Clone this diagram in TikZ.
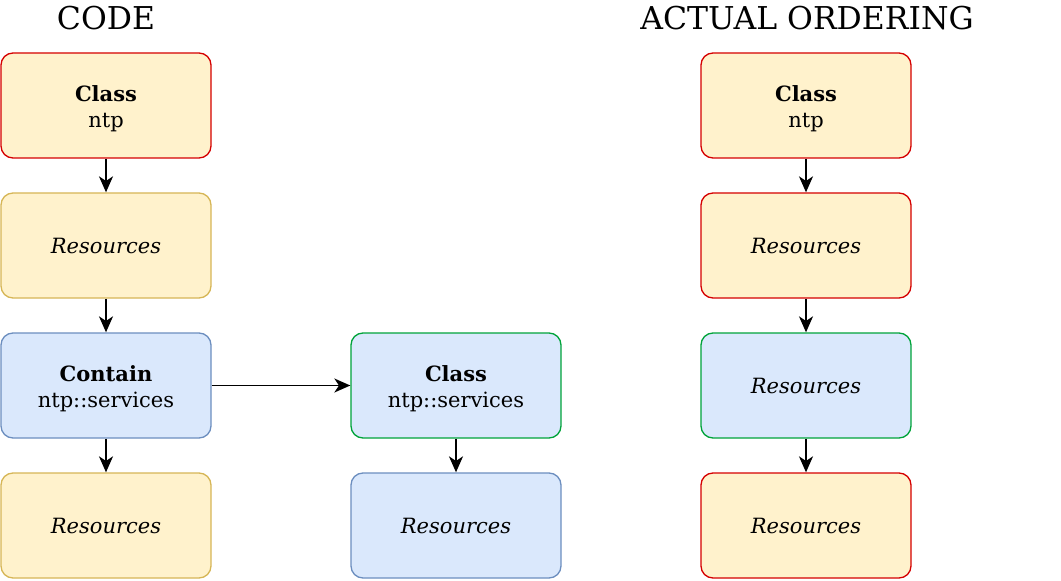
\documentclass[tikz,border=0pt]{standalone}
\usepackage{fontspec}
\setmainfont{DejaVu Serif}
\usetikzlibrary{arrows.meta}
\definecolor{yfill}{HTML}{FFF2CC}
\definecolor{ydraw}{HTML}{D6B656}
\definecolor{bfill}{HTML}{DAE8FC}
\definecolor{bdraw}{HTML}{6C8EBF}
\definecolor{rdraw}{HTML}{D50000}
\definecolor{gdraw}{HTML}{00A33A}
\tikzset{
  box/.style={rectangle, rounded corners=9pt, line width=1pt,
    minimum width=157.5pt, minimum height=78.75pt, inner sep=0pt,
    align=center, font=\fontsize{15.75}{18.9}\selectfont},
  ybox/.style={box, fill=yfill, draw=ydraw},
  rbox/.style={box, fill=yfill, draw=rdraw},
  bbox/.style={box, fill=bfill, draw=bdraw},
  gbox/.style={box, fill=bfill, draw=gdraw},
  txt/.style={inner sep=0pt, align=center, font=\fontsize{15.75}{18.9}\selectfont},
  conn/.style={line width=1.35pt, -{Stealth[length=12pt,width=10.5pt,inset=3.5pt]}},
  ttl/.style={font=\fontsize{23.6}{28}\selectfont, inner sep=0pt}
}
\begin{document}
\begin{tikzpicture}[x=0.75pt,y=-0.75pt]
\useasboundingbox (0,0) rectangle (1061,581);
\node[ttl] (t1) at (106,18) {CODE};
\node[ttl] (t2) at (807,18) {ACTUAL ORDERING};

\node[rbox] (a1) at (106,105.5) {};
\node[txt] (a1t) at ([yshift=-2.4pt]a1.center) {\textbf{Class}\\ntp};
\node[ybox] (a2) at (106,245.5) {\textit{Resources}};
\node[bbox] (a3) at (106,385.5) {};
\node[txt] (a3t) at ([yshift=-2.4pt]a3.center) {\textbf{Contain}\\ntp::services};
\node[ybox] (a4) at (106,525.5) {\textit{Resources}};

\node[gbox] (b1) at (456,385.5) {};
\node[txt] (b1t) at ([yshift=-2.4pt]b1.center) {\textbf{Class}\\ntp::services};
\node[bbox] (b2) at (456,525.5) {\textit{Resources}};

\node[rbox] (c1) at (806,105.5) {};
\node[txt] (c1t) at ([yshift=-2.4pt]c1.center) {\textbf{Class}\\ntp};
\node[rbox] (c2) at (806,245.5) {\textit{Resources}};
\node[gbox] (c3) at (806,385.5) {\textit{Resources}};
\node[rbox] (c4) at (806,525.5) {\textit{Resources}};

\draw[conn] (a1) -- (a2);
\draw[conn] (a2) -- (a3);
\draw[conn] (a3) -- (a4);
\draw[conn] (a3) -- (b1);
\draw[conn] (b1) -- (b2);
\draw[conn] (c1) -- (c2);
\draw[conn] (c2) -- (c3);
\draw[conn] (c3) -- (c4);
\end{tikzpicture}
\end{document}
